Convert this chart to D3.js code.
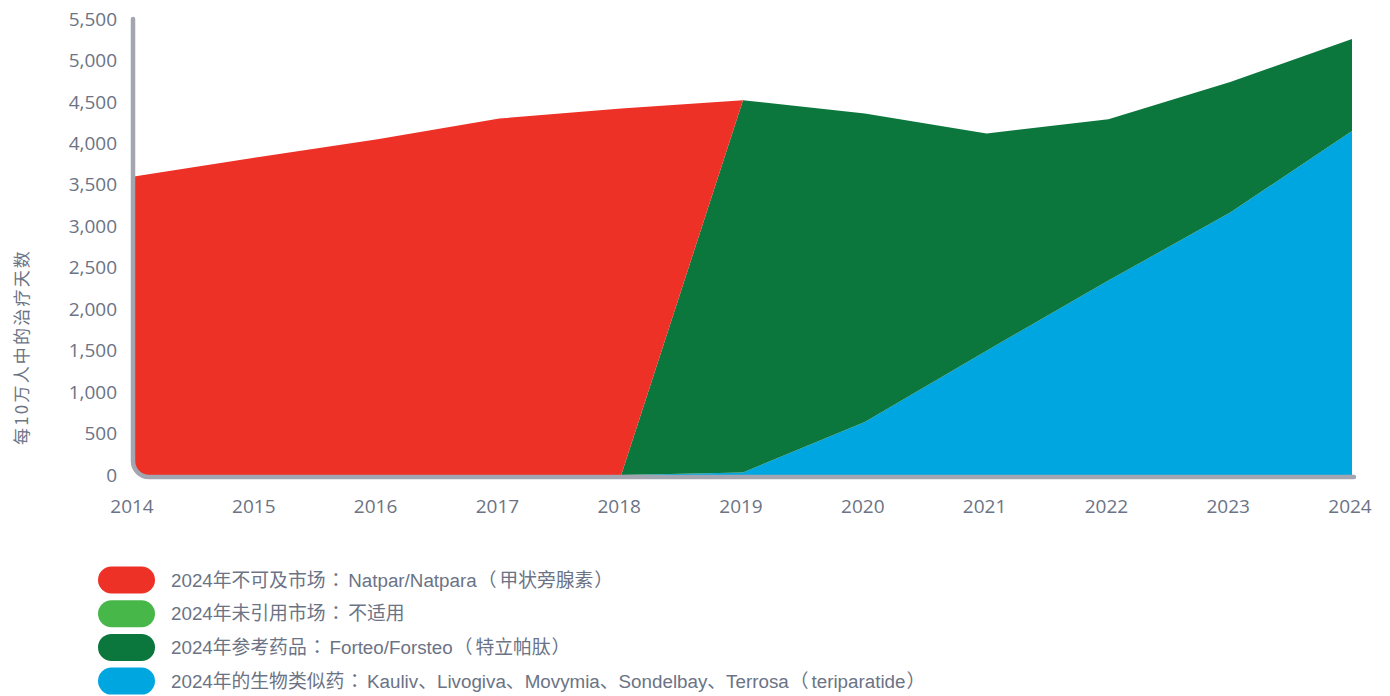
<!DOCTYPE html>
<html>
<head>
<meta charset="utf-8">
<script src="https://cdn.jsdelivr.net/npm/d3@7"></script>
<style>
  body { margin: 0; background: #fff; }
  svg { display: block; }
  .tick-label { font-family: "Open Sans", "Noto Sans", sans-serif; font-size: 19px; fill: #6b7385; }
  .legend-label { font-family: "Liberation Sans", Arial, "Noto Sans CJK SC", sans-serif; font-size: 18.8px; fill: #6b7385; }
  .y-title { font-family: "Noto Sans CJK SC", "Noto Sans", sans-serif; font-size: 17px; letter-spacing: 2.2px; fill: #6b7385; }
</style>
</head>
<body>
<svg id="chart" width="1390" height="696"></svg>
<script>
const years = [2014, 2015, 2016, 2017, 2018, 2019, 2020, 2021, 2022, 2023, 2024];
// days of therapy per 100k population, per series
const unreachable = [3600, 3830, 4050, 4300, 4420, 0, 0, 0, 0, 0, 0];
const unreferenced = [0, 0, 0, 0, 0, 0, 0, 0, 0, 0, 0];
const reference = [0, 0, 0, 0, 0, 4490, 3720, 2620, 1945, 1575, 1110];
const biosimilars = [0, 0, 0, 0, 0, 30, 640, 1500, 2345, 3165, 4150];
const yTicks = [0, 500, 1000, 1500, 2000, 2500, 3000, 3500, 4000, 4500, 5000, 5500];

const seriesNames = ["biosimilars", "reference", "unreferenced", "unreachable"];
const colors = {
  unreachable: "#ee3126",
  unreferenced: "#47b749",
  reference: "#0c773d",
  biosimilars: "#00a6df"
};
const legendItems = [
  ["unreachable", "2024年不可及市场：Natpar/Natpara（甲状旁腺素）"],
  ["unreferenced", "2024年未引用市场：不适用"],
  ["reference", "2024年参考药品：Forteo/Forsteo（特立帕肽）"],
  ["biosimilars", "2024年的生物类似药：Kauliv、Livogiva、Movymia、Sondelbay、Terrosa（teriparatide）"]
];

const svg = d3.select("#chart");

const x = d3.scaleLinear().domain([2014, 2024]).range([134, 1352]);
const y = d3.scaleLinear().domain([0, 5500]).range([475, 19]);

const table = years.map((yr, i) => ({
  year: yr,
  unreachable: unreachable[i],
  unreferenced: unreferenced[i],
  reference: reference[i],
  biosimilars: biosimilars[i]
}));

const stacked = d3.stack().keys(seriesNames)(table);

const area = d3.area()
  .x(d => x(d.data.year))
  .y0(d => y(d[0]))
  .y1(d => y(d[1]));

// clip so the fill follows the rounded axis corner
const left = 133, bottom = 477, r = 16;
svg.append("clipPath").attr("id", "plotClip")
  .append("path")
  .attr("d", `M${left},0 H1390 V${bottom} H${left + r} A${r},${r} 0 0 1 ${left},${bottom - r} Z`);

svg.append("g").attr("clip-path", "url(#plotClip)")
  .selectAll("path")
  .data(stacked)
  .enter()
  .append("path")
  .attr("d", area)
  .attr("fill", d => colors[d.key]);

// axis frame: grey line with rounded corner
svg.append("path")
  .attr("d", `M${left},19 V${bottom - r} A${r},${r} 0 0 0 ${left + r},${bottom} H1354`)
  .attr("fill", "none")
  .attr("stroke", "#a3a6b0")
  .attr("stroke-width", 4.5)
  .attr("stroke-linecap", "round");

// y tick labels
svg.append("g").selectAll("text")
  .data(yTicks)
  .enter()
  .append("text")
  .attr("class", "tick-label")
  .attr("x", 117)
  .attr("y", d => y(d))
  .attr("dy", "0.35em")
  .attr("text-anchor", "end")
  .text(d => d3.format(",")(d));

// x tick labels
svg.append("g").selectAll("text")
  .data(years)
  .enter()
  .append("text")
  .attr("class", "tick-label")
  .attr("x", d => x(d) - 2)
  .attr("y", 506)
  .attr("dy", "0.35em")
  .attr("text-anchor", "middle")
  .text(d => d);

// y title
svg.append("text")
  .attr("class", "y-title")
  .attr("transform", "translate(22,347) rotate(-90)")
  .attr("text-anchor", "middle")
  .attr("dy", "0.35em")
  .text("每10万人中的治疗天数");

// legend
const legend = svg.append("g").selectAll("g")
  .data(legendItems)
  .enter()
  .append("g")
  .attr("transform", (d, i) => `translate(98,${580 + i * 33.7})`);

legend.append("rect")
  .attr("x", 0)
  .attr("y", -13.5)
  .attr("width", 57)
  .attr("height", 27)
  .attr("rx", 13.5)
  .attr("fill", d => colors[d[0]]);

// full-width colon and brackets sit centred with air round them in the original
function splitRuns(s) {
  const runs = [];
  for (const ch of s) {
    const padded = "：（）".includes(ch);
    const last = runs[runs.length - 1];
    if (last && !padded && !last.padded) last.text += ch;
    else runs.push({ text: ch, padded });
  }
  return runs;
}

legend.append("text")
  .attr("class", "legend-label")
  .attr("x", 73)
  .attr("dy", "0.35em")
  .selectAll("tspan")
  .data(d => splitRuns(d[1]))
  .enter()
  .append("tspan")
  .attr("dx", d => d.padded ? 1 : null)
  .style("font-family", d => d.padded ? "'Noto Sans CJK TC'" : null)
  .style("letter-spacing", d => d.padded ? "3px" : null)
  .text(d => d.text);
</script>
</body>
</html>
